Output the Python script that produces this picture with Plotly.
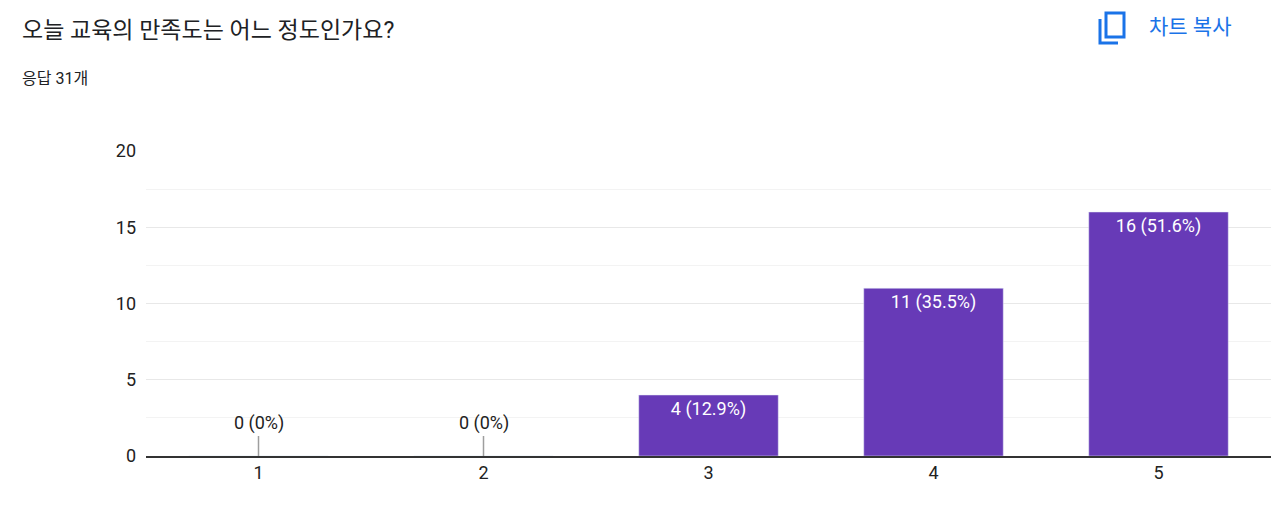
import plotly.graph_objects as go

# Google Forms style response summary
CATEGORIES = ["1", "2", "3", "4", "5"]
COUNTS = [0, 0, 4, 11, 16]
TOTAL = 31
TITLE = "오늘 교육의 만족도는 어느 정도인가요?"
SUBTITLE = f"응답 {TOTAL}개"

PURPLE = "#673ab7"
FONT = "Roboto, 'Noto Sans CJK KR', sans-serif"

def pct(v):
    p = v / TOTAL * 100
    return "0%" if v == 0 else f"{p:.1f}%"

labels = [f"{v} ({pct(v)})" for v in COUNTS]

fig = go.Figure()
fig.add_trace(go.Bar(
    x=CATEGORIES,
    y=COUNTS,
    marker_color=PURPLE,
    width=0.62,
    text=[lab if v > 0 else "" for lab, v in zip(labels, COUNTS)],
    textposition="inside",
    insidetextanchor="end",
    textfont=dict(color="white", size=18, family=FONT),
    hoverinfo="skip",
))

annotations = []
for i, (v, lab) in enumerate(zip(COUNTS, labels)):
    if v == 0:
        annotations.append(dict(
            x=i, y=0, xref="x", yref="y", text=lab, showarrow=True,
            ax=0, ay=-20, arrowhead=0, arrowwidth=1.5, arrowcolor="#9e9e9e",
            yanchor="bottom", font=dict(size=18, color="#222", family=FONT),
        ))

# page pixel -> paper coords (page has an 8px body margin)
def px(x):
    return (x - 8 - 138) / 1125

def py(y):
    return (448 - (y - 8)) / 305

annotations += [
    dict(x=px(20), y=py(30), xref="paper", yref="paper", text=TITLE, showarrow=False,
         xanchor="left", yanchor="middle", font=dict(size=23, color="#202124", family=FONT)),
    dict(x=px(20), y=py(78), xref="paper", yref="paper", text=SUBTITLE, showarrow=False,
         xanchor="left", yanchor="middle", font=dict(size=16, color="#202124", family=FONT)),
    dict(x=px(1147), y=py(27), xref="paper", yref="paper", text="차트 복사", showarrow=False,
         xanchor="left", yanchor="middle", font=dict(size=21, color="#1a73e8", family=FONT)),
]

shapes = [
    dict(type="rect", xref="paper", yref="paper", x0=px(1106), x1=px(1124), y0=py(13), y1=py(37),
         line=dict(color="#1a73e8", width=3)),
    dict(type="path", xref="paper", yref="paper",
         path=f"M {px(1100)} {py(19)} L {px(1100)} {py(43)} L {px(1118)} {py(43)}",
         line=dict(color="#1a73e8", width=3)),
]

fig.update_layout(
    width=1280, height=522,
    margin=dict(l=138, r=17, t=143, b=74),
    plot_bgcolor="white", paper_bgcolor="white",
    showlegend=False,
    annotations=annotations,
    shapes=shapes,
    font=dict(family=FONT, color="#222"),
    xaxis=dict(showgrid=False, tickfont=dict(size=18, color="#222"), ticks="",
               showline=True, linecolor="#333", linewidth=1.5),
    yaxis=dict(range=[0, 20], dtick=5, gridcolor="#e8e8e8", zeroline=False,
               tickfont=dict(size=18, color="#222"), ticksuffix="  ",
               minor=dict(dtick=2.5, showgrid=True, gridcolor="#f3f3f3")),
)

fig.write_html("out.html")
